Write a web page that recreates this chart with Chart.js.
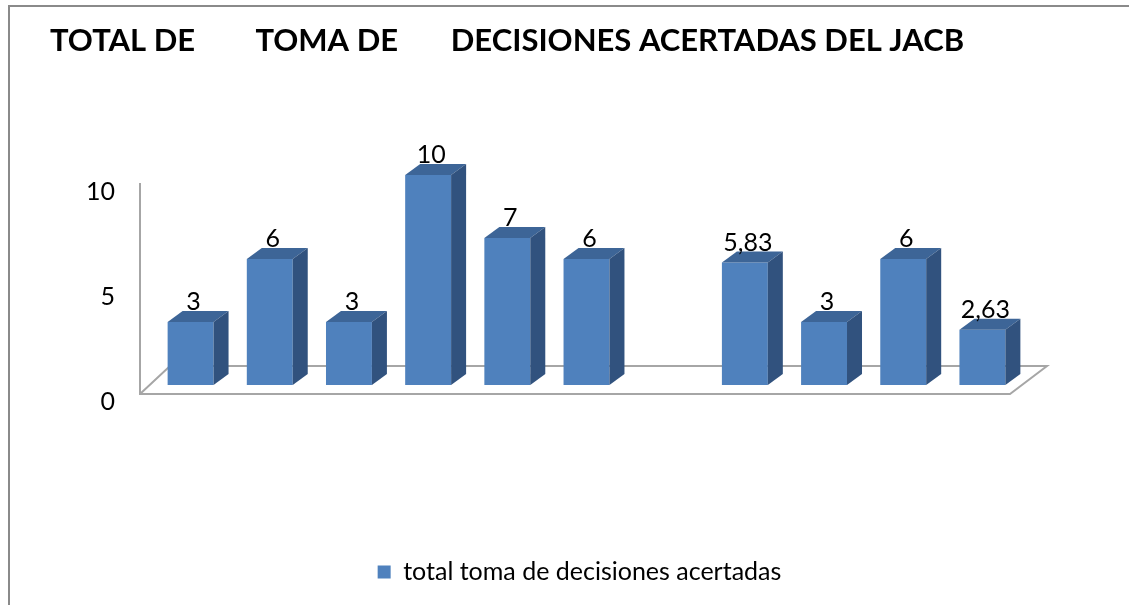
<!DOCTYPE html>
<html>
<head>
<meta charset="utf-8">
<script src="https://cdn.jsdelivr.net/npm/chart.js@4.4.1/dist/chart.umd.min.js"></script>
<style>
  body { margin: 0; background: #fff; }
  #marco { position: absolute; left: 0; top: 0; width: 1129px; height: 605px; }
  #borde { position: absolute; left: 8px; top: 5px; right: 0; bottom: -10px; border-left: 2px solid #8a8a8a; border-top: 2px solid #8a8a8a; pointer-events: none; }
</style>
</head>
<body>
<div id="marco"><canvas id="grafica" width="1129" height="605"></canvas></div>
<div id="borde"></div>
<script>
// Categorias (sin etiqueta visible en el eje X)
const categorias = ["1", "2", "3", "4", "5", "6", "7", "8", "9", "10", "11"];
// Valores de la serie (la posición 7 está vacía)
const valores = [3, 6, 3, 10, 7, 6, null, 5.83, 3, 6, 2.63];
// Marcas del eje Y
const marcasY = [0, 5, 10];

const titulo = "TOTAL DE        TOMA DE       DECISIONES ACERTADAS DEL JACB";
const fuente = "Lato, 'Open Sans', sans-serif";

// Colores de las caras de las barras
const colorFrente = "#4f81bd";
const colorArriba = "#3d6597";
const colorLado = "#31527e";
const fondo = { dx: 15, dy: -11 }; // profundidad de cada barra

// Plugin que dibuja el suelo 3D, las caras de las barras y las etiquetas
const barras3d = {
  id: "barras3d",
  beforeDatasetsDraw(chart) {
    const { ctx, chartArea, scales } = chart;
    const y0 = scales.y.getPixelForValue(0);
    const y10 = scales.y.getPixelForValue(10);
    const fl = { x: chartArea.left - 11, y: y0 + 9 };
    const fr = { x: chartArea.right - 12, y: y0 + 9 };
    ctx.save();
    ctx.strokeStyle = "#a6a6a6";
    ctx.lineWidth = 2;
    ctx.beginPath();
    // pared izquierda
    ctx.moveTo(fl.x, y10 + 8);
    ctx.lineTo(fl.x, fl.y);
    // borde delantero del suelo
    ctx.lineTo(fr.x, fr.y);
    ctx.lineTo(fr.x + 37, fr.y - 28);
    ctx.lineTo(fl.x + 30, fl.y - 28);
    ctx.lineTo(fl.x, fl.y);
    ctx.stroke();
    ctx.restore();
  },
  afterDatasetsDraw(chart) {
    const { ctx } = chart;
    const meta = chart.getDatasetMeta(0);
    ctx.save();
    meta.data.forEach((bar, i) => {
      const v = valores[i];
      if (v === null || v === undefined) return;
      const izq = bar.x - bar.width / 2;
      const der = bar.x + bar.width / 2;
      const arriba = bar.y;
      const base = bar.base;
      // cara superior
      ctx.fillStyle = colorArriba;
      ctx.beginPath();
      ctx.moveTo(izq, arriba);
      ctx.lineTo(izq + fondo.dx, arriba + fondo.dy);
      ctx.lineTo(der + fondo.dx, arriba + fondo.dy);
      ctx.lineTo(der, arriba);
      ctx.closePath();
      ctx.fill();
      // cara lateral
      ctx.fillStyle = colorLado;
      ctx.beginPath();
      ctx.moveTo(der, arriba);
      ctx.lineTo(der + fondo.dx, arriba + fondo.dy);
      ctx.lineTo(der + fondo.dx, base + fondo.dy);
      ctx.lineTo(der, base);
      ctx.closePath();
      ctx.fill();
      // etiqueta del valor
      ctx.fillStyle = "#000";
      ctx.font = "25px " + fuente;
      ctx.textAlign = "center";
      ctx.textBaseline = "middle";
      ctx.fillText(String(v).replace(".", ","), bar.x + 3, arriba - 20);
    });
    ctx.restore();
  }
};

new Chart(document.querySelector("#grafica"), {
  type: "bar",
  data: {
    labels: categorias,
    datasets: [{
      label: "total toma de decisiones acertadas",
      data: valores,
      backgroundColor: colorFrente,
      borderWidth: 0,
      categoryPercentage: 1,
      barPercentage: 0.58
    }]
  },
  options: {
    responsive: false,
    animation: false,
    layout: { padding: { left: 50, right: 20, top: 18, bottom: 10.5 } },
    plugins: {
      title: {
        display: true,
        text: titulo,
        align: "start",
        color: "#000",
        font: { family: fuente, size: 31, weight: "bold" },
        padding: { top: 4, bottom: 115.8 }
      },
      legend: {
        position: "bottom",
        labels: {
          color: "#000",
          font: { family: fuente, size: 25 },
          boxWidth: 13,
          boxHeight: 13,
          padding: 10
        }
      },
      tooltip: { enabled: false }
    },
    scales: {
      x: {
        grid: { display: false },
        border: { display: false },
        ticks: { display: false },
        afterFit(s) { s.height = 164.5; }
      },
      y: {
        min: 0,
        max: 10,
        grid: { display: false },
        border: { display: false },
        afterBuildTicks(s) { s.ticks = marcasY.map(v => ({ value: v })); },
        ticks: {
          color: "#000",
          font: { family: fuente, size: 25 },
          padding: 28,
          labelOffset: 17
        },
        afterFit(s) { s.width = 101; }
      },
      y2: {
        position: "right",
        grid: { display: false },
        border: { display: false },
        ticks: { display: false },
        afterFit(s) { s.width = 87; }
      }
    }
  },
  plugins: [barras3d]
});
</script>
</body>
</html>
